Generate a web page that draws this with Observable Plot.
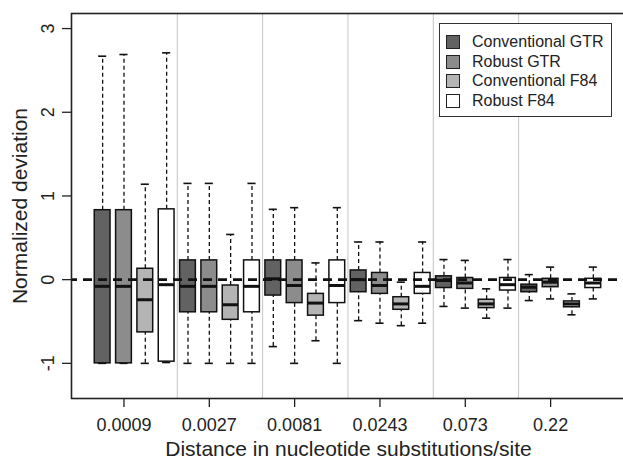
<!DOCTYPE html>
<html><head><meta charset="utf-8">
<script src="https://cdn.jsdelivr.net/npm/d3@7"></script>
<script src="https://cdn.jsdelivr.net/npm/@observablehq/plot@0.6"></script>
<style>
body{margin:0;background:#fff;font-family:"Liberation Sans",Arial,sans-serif;}
#wrap{position:relative;width:623px;height:460px;overflow:hidden;}
#wrap svg{max-width:none !important;}
#legend{position:absolute;left:439px;top:23px;width:171px;height:92px;border:1.5px solid #333;background:#fff;}
.row{position:absolute;left:6px;height:19px;display:flex;align-items:center;font-size:16px;color:#222;white-space:nowrap;}
.sw{width:12px;height:12px;border:1.5px solid #222;margin-right:12px;}
</style></head>
<body>
<div id="wrap"></div>
<script>
const groups = ["0.0009","0.0027","0.0081","0.0243","0.073","0.22"];
const methods = ["Conventional GTR","Robust GTR","Conventional F84","Robust F84"];
const fills = ["#626262","#8c8c8c","#b4b4b4","#ffffff"];
// one value per box, group by group, methods in legend order
const whiskerLow  = [-1.00,-1.00,-1.00,-0.99, -1.00,-1.00,-1.00,-1.00, -0.80,-1.00,-0.73,-1.00, -0.49,-0.52,-0.55,-0.52, -0.32,-0.34,-0.46,-0.34, -0.25,-0.23,-0.42,-0.23];
const quart1      = [-1.00,-1.00,-0.63,-0.98, -0.39,-0.39,-0.48,-0.39, -0.19,-0.28,-0.43,-0.28, -0.15,-0.17,-0.36,-0.17, -0.10,-0.11,-0.34,-0.13, -0.15,-0.09,-0.33,-0.10];
const median      = [-0.08,-0.08,-0.24,-0.06, -0.08,-0.08,-0.30,-0.08,  0.01,-0.07,-0.28,-0.07,  0.00,-0.07,-0.29,-0.08, -0.01,-0.04,-0.29,-0.06, -0.09,-0.03,-0.29,-0.04];
const quart3      = [ 0.83, 0.83, 0.13, 0.84,  0.23, 0.23,-0.07, 0.23,  0.23, 0.23,-0.17, 0.23,  0.11, 0.08,-0.21, 0.08,  0.04, 0.02,-0.24, 0.02, -0.06, 0.01,-0.26, 0.01];
const whiskerHigh = [ 2.67, 2.69, 1.14, 2.71,  1.15, 1.15, 0.54, 1.15,  0.84, 0.86, 0.20, 0.86,  0.45, 0.45,-0.03, 0.45,  0.24, 0.23,-0.11, 0.24,  0.06, 0.15,-0.17, 0.15];
const yTicks = [-1, 0, 1, 2, 3];

const nM = methods.length;
const boxes = whiskerLow.map((lo, i) => ({
  pos: i + 1, method: methods[i % nM],
  lo, q1: quart1[i], med: median[i], q3: quart3[i], hi: whiskerHigh[i]
}));
const tickPos = groups.map((g, k) => k * nM + 2);
const separators = groups.slice(1).map((g, k) => (k + 1) * nM + 0.5);
const half = 0.37, cap = 0.19;

const chart = Plot.plot({
  width: 625, height: 460,
  marginLeft: 71, marginTop: 13, marginRight: 0, marginBottom: 62,
  style: {fontFamily: "'Liberation Sans', Arial, sans-serif", background: "white", color: "#222", maxWidth: "none"},
  x: {domain: [-0.46, boxes.length + 1.51], axis: null},
  y: {domain: [-1.42, 3.18], axis: null},
  color: {domain: methods, range: fills},
  marks: [
    Plot.ruleX(separators, {stroke: "#c4c4c4", strokeWidth: 1}),
    Plot.ruleX(boxes, {x: "pos", y1: "q3", y2: "hi", stroke: "#111", strokeWidth: 1.3, strokeDasharray: "4,3"}),
    Plot.ruleX(boxes, {x: "pos", y1: "lo", y2: "q1", stroke: "#111", strokeWidth: 1.3, strokeDasharray: "4,3"}),
    Plot.ruleY(boxes, {y: "hi", x1: d => d.pos - cap, x2: d => d.pos + cap, stroke: "#111", strokeWidth: 1.6}),
    Plot.ruleY(boxes, {y: "lo", x1: d => d.pos - cap, x2: d => d.pos + cap, stroke: "#111", strokeWidth: 1.6}),
    Plot.rect(boxes, {x1: d => d.pos - half, x2: d => d.pos + half, y1: "q1", y2: "q3", fill: "method", stroke: "#111", strokeWidth: 1.5}),
    Plot.ruleY(boxes, {y: "med", x1: d => d.pos - half, x2: d => d.pos + half, stroke: "#111", strokeWidth: 3}),
    Plot.ruleY([0], {stroke: "#111", strokeWidth: 2.6, strokeDasharray: "9,6", strokeDashoffset: 3}),
    Plot.axisX(tickPos, {anchor: "bottom", tickFormat: d => groups[(d - 2) / nM], tickSize: 9, tickPadding: 11, fontSize: 18, strokeWidth: 1.3, label: null}),
    Plot.axisY(yTicks, {anchor: "left", tickRotate: -90, tickFormat: d => String(d), tickSize: 9, tickPadding: 9, fontSize: 18, strokeWidth: 1.3, label: null}),
    Plot.text(["Distance in nucleotide substitutions/site"], {frameAnchor: "bottom", lineAnchor: "bottom", dy: 57, fontSize: 21, fill: "#222"}),
    Plot.text(["Normalized deviation"], {frameAnchor: "left", rotate: -90, textAnchor: "middle", lineAnchor: "top", dx: -59, fontSize: 21, fill: "#222"}),
    Plot.frame({stroke: "#222", strokeWidth: 1.6})
  ]
});
const wrap = document.getElementById("wrap");
wrap.appendChild(chart);

const legend = document.createElement("div");
legend.id = "legend";
const rowTops = [8.5, 28, 47.5, 67];
methods.forEach((m, i) => {
  const row = document.createElement("div");
  row.className = "row";
  row.style.top = rowTops[i] + "px";
  const sw = document.createElement("span");
  sw.className = "sw";
  sw.style.background = fills[i];
  const t = document.createElement("span");
  t.textContent = m;
  row.appendChild(sw); row.appendChild(t);
  legend.appendChild(row);
});
wrap.appendChild(legend);
</script>
</body></html>
